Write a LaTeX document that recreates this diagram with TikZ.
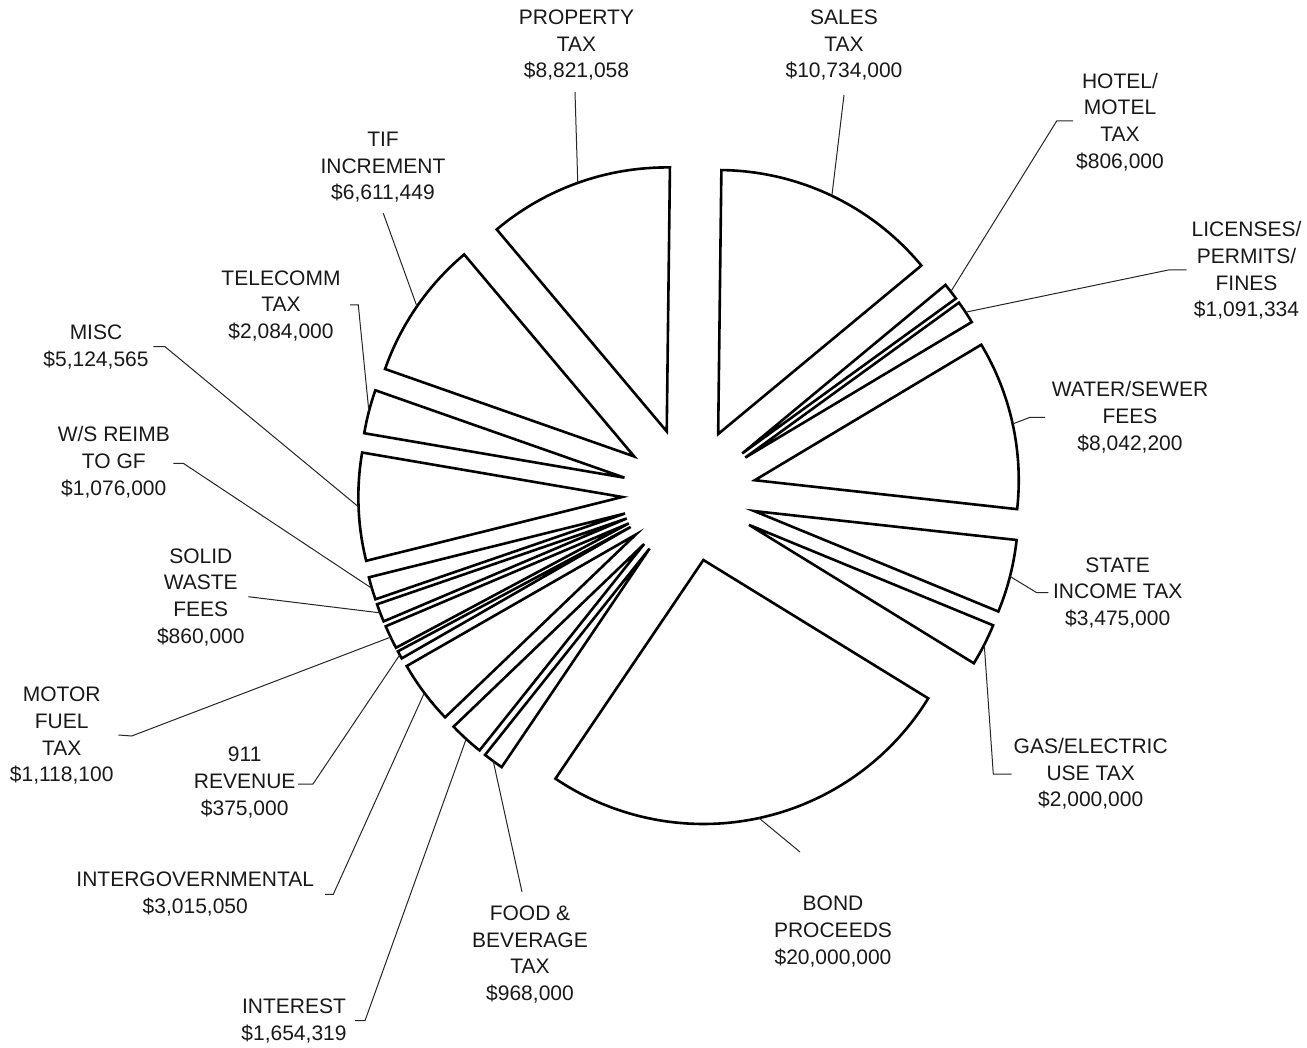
\documentclass[tikz,border=0pt]{standalone}
\usepackage{fontspec}
\setmainfont{Liberation Sans}
\usetikzlibrary{calc}
\begin{document}
\begin{tikzpicture}[x=1pt,y=1pt,
  slice/.style={draw=black, line width=2.6pt, line join=miter, fill=white},
  leader/.style={draw=black!85, line width=1pt},
  lbl/.style={align=center, inner sep=0pt, anchor=base,
    font=\fontsize{21}{26.7}\selectfont, text=black!90}]
\useasboundingbox[fill=white] (0,0) rectangle (1307,-1048);

% pie centre, slice radius and explode distance
\coordinate (C) at (689.3,-494.5);
\def\R{264}
\def\D{67}

% labels, placed by the baseline of their last line
\node[lbl] (propL)  at (576.5,-78)   {PROPERTY\\TAX\\\$8,821,058};
\node[lbl] (salesL) at (844,-78)     {SALES\\TAX\\\$10,734,000};
\node[lbl] (hotelL) at (1120,-168.3) {HOTEL/\\MOTEL\\TAX\\\$806,000};
\node[lbl] (licL)   at (1246.5,-317) {LICENSES/\\PERMITS/\\FINES\\\$1,091,334};
\node[lbl] (waterL) at (1130,-450)   {WATER/SEWER\\FEES\\\$8,042,200};
\node[lbl] (stateL) at (1117.7,-625.5) {STATE\\INCOME TAX\\\$3,475,000};
\node[lbl] (gasL)   at (1090.7,-806.7) {GAS/ELECTRIC\\USE TAX\\\$2,000,000};
\node[lbl] (bondL)  at (833,-964)    {BOND\\PROCEEDS\\\$20,000,000};
\node[lbl] (foodL)  at (530,-1000.6) {FOOD \&\\BEVERAGE\\TAX\\\$968,000};
\node[lbl] (intL)   at (294,-1040)   {INTEREST\\\$1,654,319};
\node[lbl] (igovL)  at (195.3,-913.3) {INTERGOVERNMENTAL\\\$3,015,050};
\node[lbl] (nineL)  at (244.7,-815)  {911\\REVENUE\\\$375,000};
\node[lbl] (motorL) at (61.7,-781.7) {MOTOR\\FUEL\\TAX\\\$1,118,100};
\node[lbl] (solidL) at (200.8,-643.3) {SOLID\\WASTE\\FEES\\\$860,000};
\node[lbl] (wsL)    at (113.8,-495)  {W/S REIMB\\TO GF\\\$1,076,000};
\node[lbl] (miscL)  at (96,-366.7)   {MISC\\\$5,124,565};
\node[lbl] (telL)   at (281,-338.5)  {TELECOMM\\TAX\\\$2,084,000};
\node[lbl] (tifL)   at (383,-200)    {TIF\\INCREMENT\\\$6,611,449};

% slices, clockwise from the top; each pushed out along its mid angle
\foreach \nm/\a/\b in {
    sales/90/40.367, hotel/40.367/36.640, lic/36.640/31.594,
    water/31.594/-5.592, state/-5.592/-21.660, gas/-21.660/-30.908,
    bond/-30.908/-123.386, food/-123.386/-127.862, int/-127.862/-135.511,
    igov/-135.511/-149.452, nine/-149.452/-151.186, motor/-151.186/-156.356,
    solid/-156.356/-160.333, ws/-160.333/-165.308, misc/-165.308/-189.004,
    tel/-189.004/-198.640, tif/-198.640/-229.211, prop/-229.211/-270}{
  \pgfmathsetmacro\aa{\a-0.7}
  \pgfmathsetmacro\bb{\b-0.7}
  \pgfmathsetmacro\mm{(\aa+\bb)/2}
  \coordinate (\nm-apex) at ($(C)+(\mm:\D)$);
  \coordinate (\nm-mid) at ($(\nm-apex)+(\mm:\R)$);
  \draw[slice] (\nm-apex) -- ++(\aa:\R)
      arc[start angle=\aa, end angle=\bb, radius=\R] -- cycle;
}

% leader start points beside the labels
\coordinate (propS)  at (575,-92);
\coordinate (salesS) at (844,-95);
\coordinate (hotelS) at (1073,-121);
\coordinate (licS)   at (1186.7,-270);
\coordinate (waterS) at (1045,-417.3);
\coordinate (stateS) at (1048.3,-592.7);
\coordinate (gasS)   at (1011.7,-774);
\coordinate (bondS)  at (800,-852);
\coordinate (foodS)  at (522,-892);
\coordinate (intS)   at (355,-1020.7);
\coordinate (igovS)  at (325,-894.3);
\coordinate (nineS)  at (298,-784);
\coordinate (motorS) at (118.3,-735);
\coordinate (solidS) at (248.3,-596.7);
\coordinate (wsS)    at (173.3,-463.3);
\coordinate (miscS)  at (153.3,-346.7);
\coordinate (telS)   at (350,-305);
\coordinate (tifS)   at (383.3,-213.3);

\draw[leader] (propS) -- (prop-mid);
\draw[leader] (salesS) -- (sales-mid);
\draw[leader] (hotelS) -- ++(-16.3,0) -- (hotel-mid);
\draw[leader] (licS) -- ++(-18.4,0) -- (lic-mid);
\draw[leader] (waterS) -- ++(-15,0) -- (water-mid);
\draw[leader] (stateS) -- ++(-11.6,0) -- (state-mid);
\draw[leader] (gasS) -- ++(-18.4,0) -- (gas-mid);
\draw[leader] (bondS) -- (bond-mid);
\draw[leader] (foodS) -- (food-mid);
\draw[leader] (intS) -- ++(10,0) -- (int-mid);
\draw[leader] (igovS) -- ++(8.3,0) -- (igov-mid);
\draw[leader] (nineS) -- ++(15,0) -- (nine-mid);
\draw[leader] (motorS) -- ++(13.4,-1) -- (motor-mid);
\draw[leader] (solidS) -- (solid-mid);
\draw[leader] (wsS) -- ++(10,0) -- (ws-mid);
\draw[leader] (miscS) -- ++(11.7,0) -- (misc-mid);
\draw[leader] (telS) -- ++(8.3,0) -- (tel-mid);
\draw[leader] (tifS) -- (tif-mid);
\end{tikzpicture}
\end{document}
